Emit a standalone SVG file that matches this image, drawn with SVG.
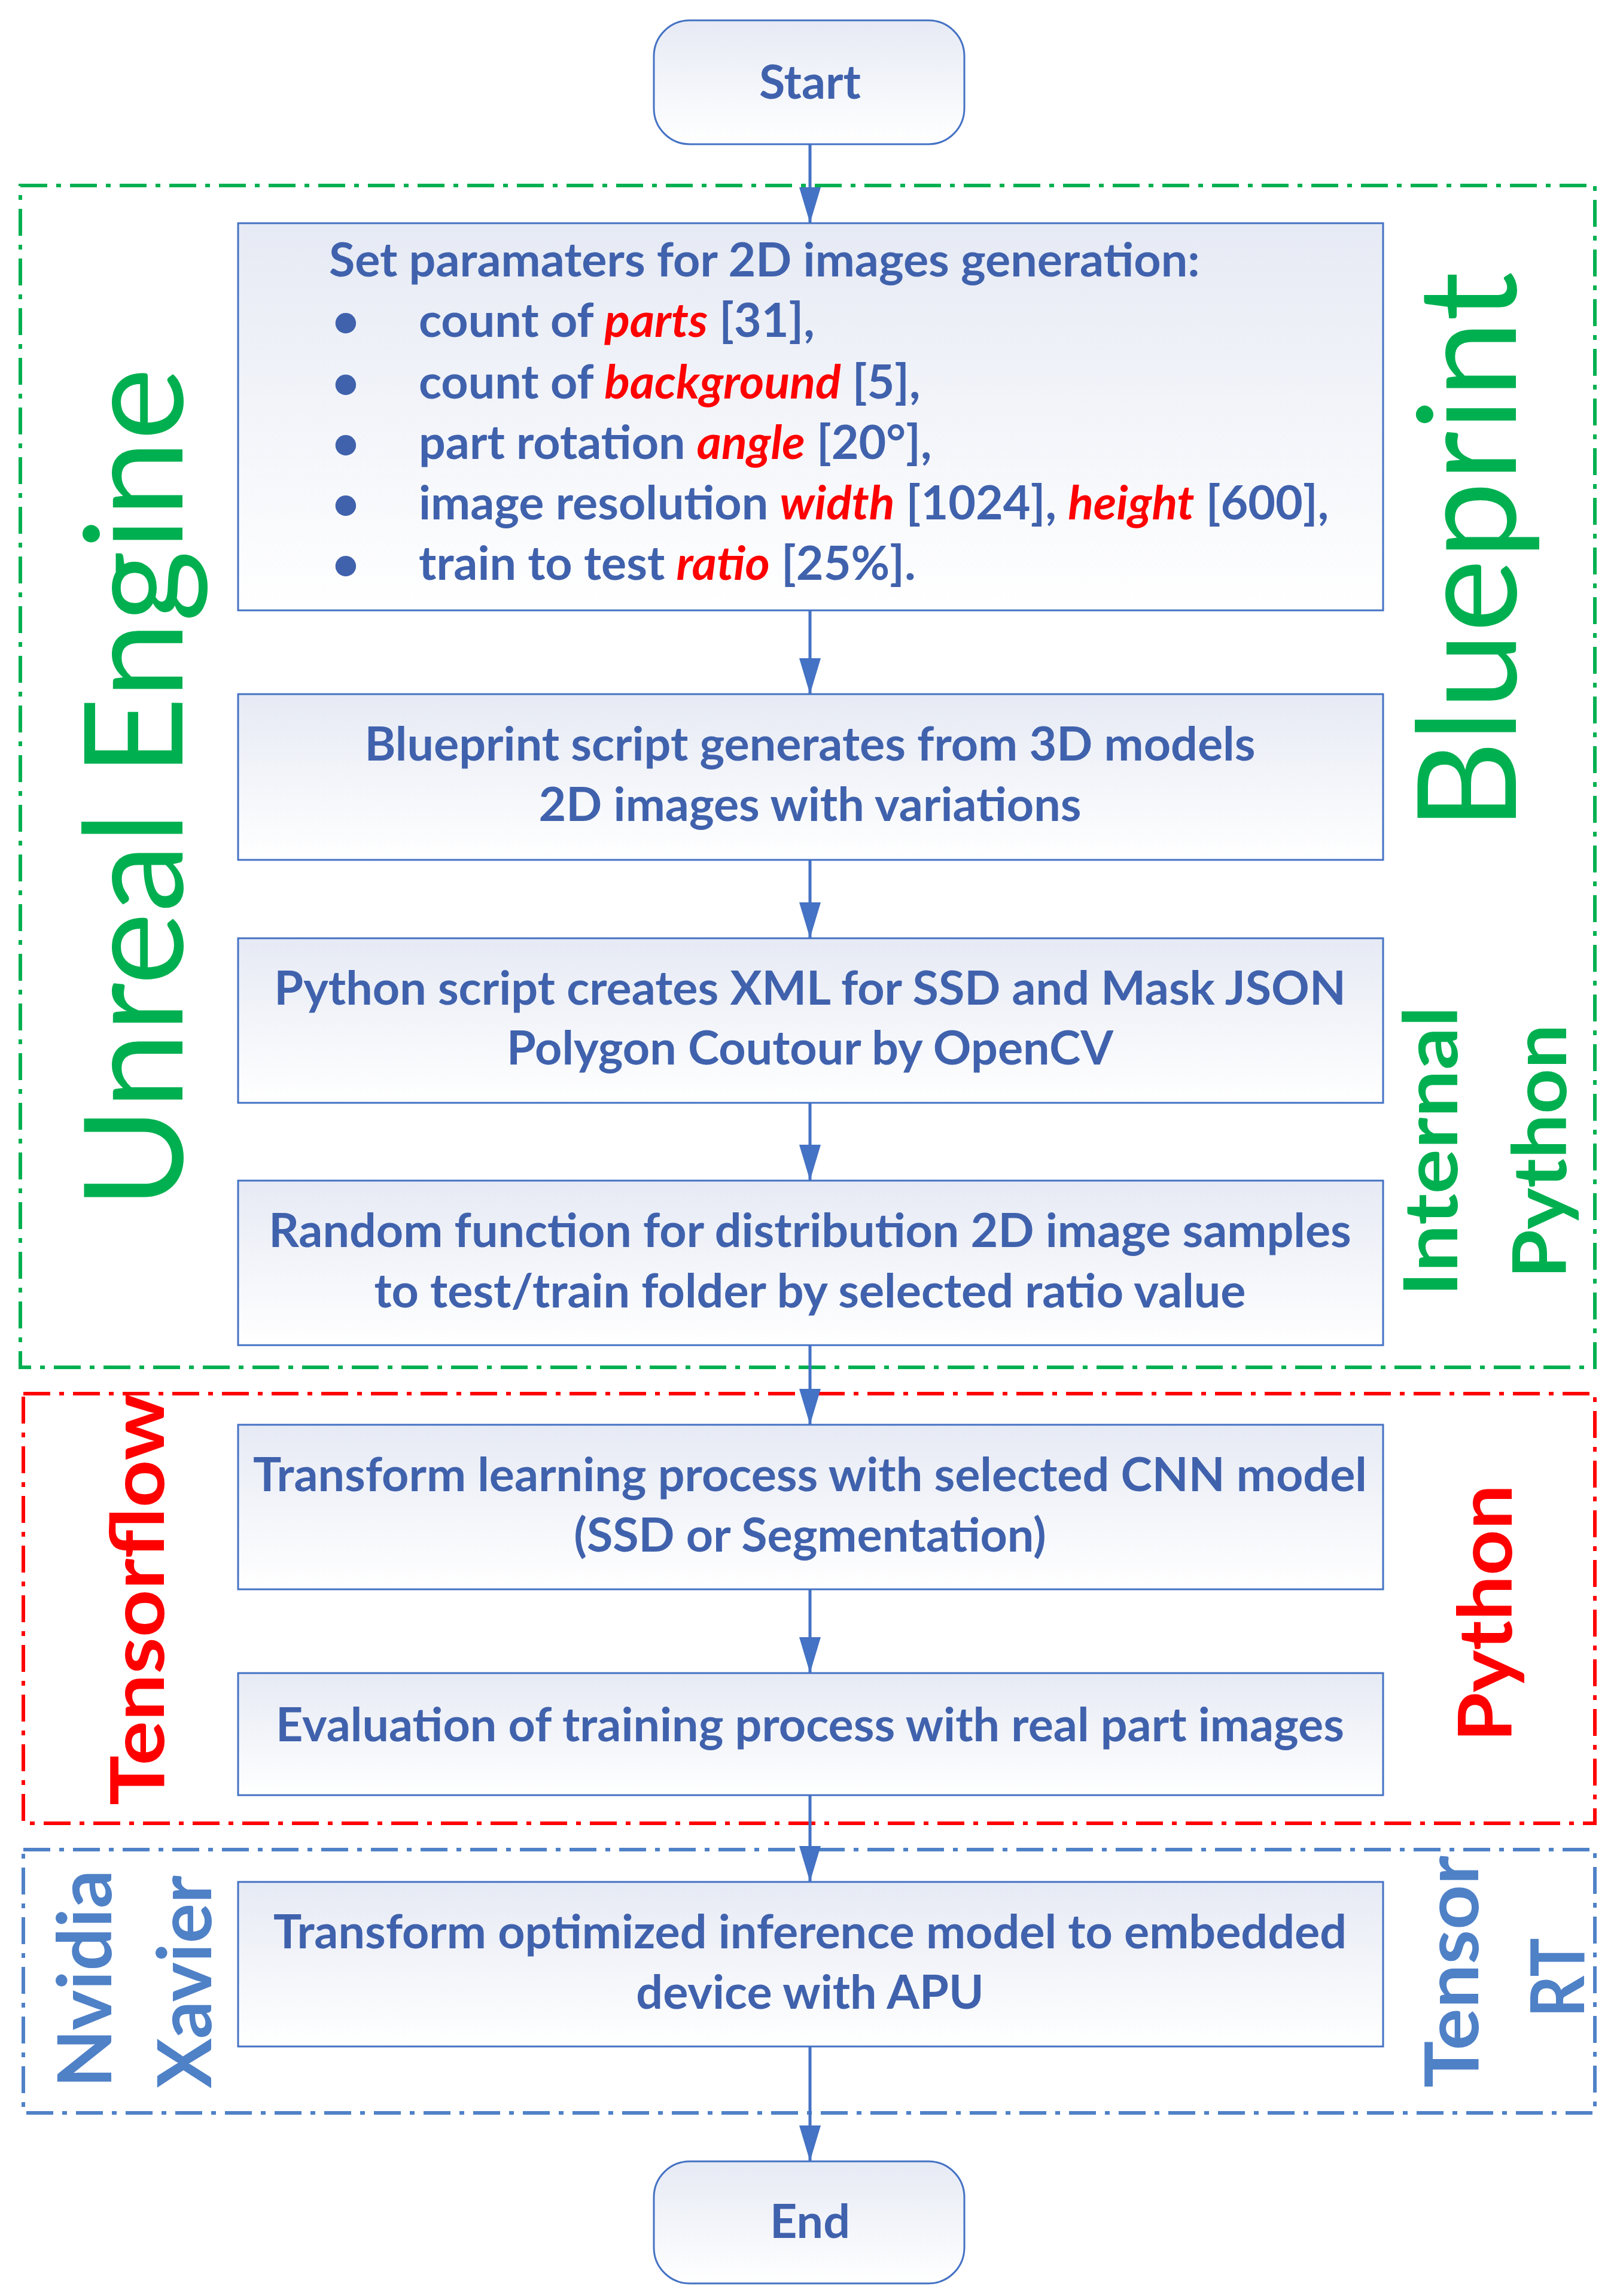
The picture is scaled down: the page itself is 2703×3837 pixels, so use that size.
<svg xmlns="http://www.w3.org/2000/svg" width="2703" height="3837" viewBox="0 0 2703 3837">
<defs>
<linearGradient id="g" x1="0" y1="0" x2="0" y2="1"><stop offset="0" stop-color="#e6eaf4"/><stop offset="1" stop-color="#ffffff"/></linearGradient>
<marker id="ah" markerWidth="60" markerHeight="36" refX="60" refY="18" orient="auto" markerUnits="userSpaceOnUse" viewBox="0 0 60 36"><path d="M0,0 L60,18 L0,36 z" fill="#4472c4"/></marker>
</defs>
<style>
.box{fill:url(#g);stroke:#4472c4;stroke-width:3}
.t{font-family:Lato,"Liberation Sans",sans-serif;font-weight:bold;font-size:79px;fill:#4062ad}
.c{text-anchor:middle}
.r{fill:#ff0000;font-style:italic}
.con{stroke:#4472c4;stroke-width:5;fill:none}
.lab{font-family:Lato,"Open Sans",sans-serif;text-anchor:middle;dominant-baseline:central}
</style>
<rect width="2703" height="3837" fill="#fff"/>
<g id="frames" fill="none" stroke-width="6" stroke-dasharray="45,15,8,15">
<rect x="34" y="310" width="2632" height="1975" stroke="#00b050"/>
<rect x="39" y="2329" width="2627" height="718" stroke="#ff0000"/>
<rect x="39" y="3091" width="2627" height="440" stroke="#4f81c7"/>
</g>
<g id="connectors">
<path class="con" d="M1354 241 V373" marker-end="url(#ah)"/>
<path class="con" d="M1354 1020 V1160" marker-end="url(#ah)"/>
<path class="con" d="M1354 1437 V1568" marker-end="url(#ah)"/>
<path class="con" d="M1354 1843 V1973" marker-end="url(#ah)"/>
<path class="con" d="M1354 2248 V2381" marker-end="url(#ah)"/>
<path class="con" d="M1354 2656 V2796" marker-end="url(#ah)"/>
<path class="con" d="M1354 3000 V3145" marker-end="url(#ah)"/>
<path class="con" d="M1354 3420 V3612" marker-end="url(#ah)"/>
</g>
<g id="start"><rect class="box" x="1093" y="34" width="519" height="207" rx="60"/><text class="t c" x="1354" y="165">Start</text></g>
<g id="params"><rect class="box" x="398" y="373" width="1914" height="647"/>
<text class="t" x="550" y="462">Set paramaters for 2D images generation:</text>
<g class="t"><text x="555" y="563">•</text><text x="555" y="666">•</text><text x="555" y="767">•</text><text x="555" y="868">•</text><text x="555" y="969">•</text></g>
<text class="t" x="700" y="563">count of <tspan class="r">parts</tspan> [31],</text>
<text class="t" x="700" y="666">count of <tspan class="r">background</tspan> [5],</text>
<text class="t" x="700" y="767">part rotation <tspan class="r">angle</tspan> [20°],</text>
<text class="t" x="700" y="868">image resolution <tspan class="r">width</tspan> [1024], <tspan class="r">height</tspan> [600],</text>
<text class="t" x="700" y="969">train to test <tspan class="r">ratio</tspan> [25%].</text>
</g>
<g id="blueprint"><rect class="box" x="398" y="1160" width="1914" height="277"/><text class="t c" x="1354" y="1271">Blueprint script generates from 3D models</text><text class="t c" x="1354" y="1372">2D images with variations</text></g>
<g id="python"><rect class="box" x="398" y="1568" width="1914" height="275"/><text class="t c" x="1354" y="1679">Python script creates XML for SSD and Mask JSON</text><text class="t c" x="1354" y="1779">Polygon Coutour by OpenCV</text></g>
<g id="random"><rect class="box" x="398" y="1973" width="1914" height="275"/><text class="t c" x="1354" y="2084">Random function for distribution  2D image samples</text><text class="t c" x="1354" y="2185">to test/train folder by selected ratio value</text></g>
<g id="transform"><rect class="box" x="398" y="2381" width="1914" height="275"/><text class="t c" x="1354" y="2492">Transform learning process with selected CNN model</text><text class="t c" x="1354" y="2593">(SSD or Segmentation)</text></g>
<g id="eval"><rect class="box" x="398" y="2796" width="1914" height="204"/><text class="t c" x="1354" y="2910">Evaluation of training process with real part images</text></g>
<g id="deploy"><rect class="box" x="398" y="3145" width="1914" height="275"/><text class="t c" x="1354" y="3256">Transform optimized inference model to embedded</text><text class="t c" x="1354" y="3357">device with APU</text></g>
<g id="end"><rect class="box" x="1093" y="3612" width="519" height="204" rx="60"/><text class="t c" x="1354" y="3740">End</text></g>
<g id="labels">
<text class="lab" x="216" y="1317" font-size="230" fill="#00b050" textLength="1405" lengthAdjust="spacingAndGlyphs" transform="rotate(-90 216 1317)">Unreal Engine</text>
<text class="lab" x="2445" y="921" font-size="230" fill="#00b050" textLength="934" lengthAdjust="spacingAndGlyphs" transform="rotate(-90 2445 921)">Blueprint</text>
<text class="lab" x="2388" y="1924" font-size="125" font-weight="bold" fill="#00b050" textLength="485" lengthAdjust="spacingAndGlyphs" transform="rotate(-90 2388 1924)">Internal</text>
<text class="lab" x="2570" y="1924" font-size="125" font-weight="bold" fill="#00b050" textLength="425" lengthAdjust="spacingAndGlyphs" transform="rotate(-90 2570 1924)">Python</text>
<text class="lab" x="226" y="2673" font-size="125" font-weight="bold" fill="#ff0000" textLength="688" lengthAdjust="spacingAndGlyphs" transform="rotate(-90 226 2673)">Tensorflow</text>
<text class="lab" x="2479" y="2696" font-size="125" font-weight="bold" fill="#ff0000" textLength="430" lengthAdjust="spacingAndGlyphs" transform="rotate(-90 2479 2696)">Python</text>
<text class="lab" x="138" y="3307" font-size="125" font-weight="bold" fill="#4f81c7" textLength="364" lengthAdjust="spacingAndGlyphs" transform="rotate(-90 138 3307)">Nvidia</text>
<text class="lab" x="305" y="3312" font-size="125" font-weight="bold" fill="#4f81c7" textLength="356" lengthAdjust="spacingAndGlyphs" transform="rotate(-90 305 3312)">Xavier</text>
<text class="lab" x="2423" y="3295" font-size="125" font-weight="bold" fill="#4f81c7" textLength="388" lengthAdjust="spacingAndGlyphs" transform="rotate(-90 2423 3295)">Tensor</text>
<text class="lab" x="2600" y="3305" font-size="125" font-weight="bold" fill="#4f81c7" textLength="133" lengthAdjust="spacingAndGlyphs" transform="rotate(-90 2600 3305)">RT</text>
</g>
</svg>
